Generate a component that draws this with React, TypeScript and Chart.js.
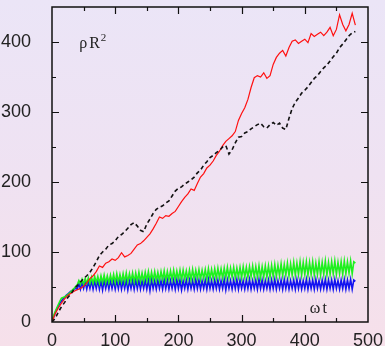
import { useEffect, useRef } from 'react';
import { Chart, registerables } from 'chart.js';

Chart.register(...registerables);

// time step (ωt units) between successive samples
const COARSE_STEP = 5;
const FINE_STEP = 2.5;

const X_TICKS = [0, 100, 200, 300, 400, 500];
const Y_TICKS = [0, 100, 200, 300, 400];

// red solid curve, samples every 5 units from 0 to 480
const RED = [
  0, 12, 20, 27, 33, 38, 41, 44, 46, 48, 51, 56, 62, 66, 72, 80, 78, 84, 86, 90,
  88, 92, 99, 93, 95, 98, 104, 110, 112, 116, 121, 126, 133, 141, 150, 148, 152, 151, 155, 158,
  165, 172, 178, 183, 190, 188, 198, 207, 212, 220, 224, 230, 238, 244, 252, 258, 262, 266, 272, 288,
  298, 306, 318, 335, 349, 352, 350, 356, 348, 352, 368, 378, 384, 388, 380, 392, 401, 403, 398, 401,
  404, 399, 412, 408, 411, 414, 409, 414, 421, 409, 418, 439, 425, 416, 425, 441, 424,
];

// black dashed curve, samples every 5 units from 0 to 480
const BLACK = [
  0, 5, 14, 22, 28, 35, 40, 47, 52, 57, 62, 66, 71, 78, 86, 95, 100, 104, 110, 112,
  116, 122, 125, 129, 134, 139, 142, 137, 131, 129, 140, 147, 155, 161, 164, 166, 170, 173, 180, 187,
  191, 193, 197, 200, 203, 207, 213, 217, 224, 229, 235, 238, 242, 245, 250, 252, 240, 246, 256, 264,
  265, 270, 272, 276, 279, 282, 284, 279, 277, 282, 285, 281, 284, 277, 275, 291, 305, 314, 320, 327,
  331, 336, 342, 348, 352, 358, 363, 367, 373, 379, 384, 392, 397, 403, 409, 413, 415,
];

// green oscillating curve, samples every 2.5 units from 0 to 480
const GREEN = [
  0, 9, 15, 20, 25, 30, 34, 35, 36, 37, 39, 41, 43, 46, 48, 51,
  53, 59, 54, 61, 54, 62, 55, 63, 55, 64,
  55, 65, 56, 65, 55, 66, 56, 67, 56, 66,
  56, 67, 57, 68, 56, 69, 57, 68, 57, 69,
  57, 70, 57, 69, 58, 70, 57, 70, 58, 71,
  58, 70, 58, 71, 59, 72, 58, 71, 59, 72,
  59, 71, 59, 72, 60, 73, 59, 72, 60, 73,
  60, 74, 60, 73, 61, 74, 60, 74, 61, 73,
  61, 74, 60, 75, 61, 74, 62, 75, 61, 74,
  62, 75, 61, 76, 62, 75, 62, 76, 62, 77,
  63, 76, 62, 77, 63, 78, 63, 77, 64, 78,
  63, 77, 64, 78, 63, 79, 64, 78, 64, 79,
  65, 80, 64, 79, 64, 80, 63, 79, 64, 80,
  64, 80, 64, 81, 65, 82, 65, 81, 66, 83,
  66, 82, 67, 84, 66, 83, 67, 85, 67, 84,
  68, 86, 67, 85, 68, 86, 67, 85, 68, 86,
  67, 84, 68, 86, 67, 85, 68, 87, 67, 85,
  68, 86, 69, 87, 68, 85, 69, 86, 68, 87,
  69, 86, 70, 87, 69, 86,
  84,
];

// blue oscillating curve, samples every 2.5 units from 0 to 480
const BLUE = [
  0, 7, 13, 18, 23, 27, 30, 33, 35, 38, 40, 42, 44, 45, 47, 48,
  47, 56, 47, 57, 48, 58, 47, 58, 48, 59,
  47, 59, 48, 60, 47, 59, 46, 60, 48, 59,
  47, 60, 48, 59, 47, 60, 48, 61, 47, 59,
  48, 60, 46, 59, 48, 60, 47, 61, 48, 60,
  47, 59, 48, 60, 47, 60, 45, 61, 48, 59,
  47, 60, 48, 59, 47, 61, 48, 60, 47, 59,
  48, 60, 47, 61, 48, 60, 46, 59, 48, 60,
  47, 60, 48, 59, 47, 61, 48, 60, 47, 59,
  48, 60, 47, 61, 48, 59, 47, 60, 48, 60,
  47, 59, 48, 61, 46, 60, 48, 59, 47, 60,
  48, 61, 47, 60, 48, 59, 47, 60, 48, 61,
  47, 59, 48, 60, 47, 61, 48, 60, 47, 59,
  48, 60, 47, 60, 48, 61, 47, 59, 48, 60,
  47, 61, 48, 60, 47, 59, 48, 60, 47, 61,
  48, 60, 47, 59, 48, 61, 47, 60, 48, 60,
  47, 61, 48, 59, 47, 60, 48, 61, 47, 60,
  48, 60, 47, 61, 48, 59, 47, 60, 48, 61,
  47, 60, 48, 61, 47, 60,
  58,
];

const toPoints = (vals: number[], step: number) => vals.map((y, i) => ({ x: i * step, y }));

const decor = {
  id: 'decor',
  afterDatasetsDraw(chart: any) {
    const { ctx, chartArea: a, scales } = chart;
    const xs = scales.x;
    const ys = scales.y;
    ctx.save();
    ctx.strokeStyle = '#111';
    ctx.lineWidth = 1.2;
    // inward ticks
    for (let v = 50; v < 500; v += 50) {
      const px = Math.round(xs.getPixelForValue(v)) + 0.5;
      const len = v % 100 === 0 ? 7 : 4;
      ctx.beginPath();
      ctx.moveTo(px, a.bottom);
      ctx.lineTo(px, a.bottom - len);
      ctx.moveTo(px, a.top);
      ctx.lineTo(px, a.top + len);
      ctx.stroke();
    }
    for (let v = 50; v < 450; v += 50) {
      const py = Math.round(ys.getPixelForValue(v)) + 0.5;
      const len = v % 100 === 0 ? 7 : 4;
      ctx.beginPath();
      ctx.moveTo(a.left, py);
      ctx.lineTo(a.left + len, py);
      ctx.moveTo(a.right, py);
      ctx.lineTo(a.right - len, py);
      ctx.stroke();
    }
    // frame
    ctx.lineWidth = 1.5;
    ctx.strokeRect(a.left, a.top, a.right - a.left, a.bottom - a.top);

    // annotations
    ctx.fillStyle = '#222';
    ctx.textBaseline = 'alphabetic';
    ctx.textAlign = 'left';
    const lx = xs.getPixelForValue(43);
    const ly = ys.getPixelForValue(391);
    ctx.font = '16px "Liberation Serif", serif';
    ctx.fillText('ρ', lx, ly);
    const rw = ctx.measureText('ρ').width + 2;
    ctx.fillText('R', lx + rw, ly);
    const r2 = ctx.measureText('R').width + 1;
    ctx.font = '11px "Liberation Serif", serif';
    ctx.fillText('2', lx + rw + r2, ly - 7);

    ctx.font = '16px "Liberation Serif", serif';
    const wx = xs.getPixelForValue(408);
    const wy = ys.getPixelForValue(13);
    ctx.fillText('ω', wx, wy);
    const ww = ctx.measureText('ω').width + 2;
    ctx.fillText('t', wx + ww, wy);
    ctx.restore();
  },
};

export default function App() {
  const ref = useRef<HTMLCanvasElement | null>(null);

  useEffect(() => {
    document.body.style.margin = '0';
    if (!ref.current) return;
    const chart = new Chart(ref.current, {
      type: 'line',
      data: {
        datasets: [
          {
            data: toPoints(BLACK, COARSE_STEP),
            borderColor: '#111',
            borderWidth: 1.6,
            borderDash: [4, 3],
            pointRadius: 0,
            tension: 0,
          },
          {
            data: toPoints(RED, COARSE_STEP),
            borderColor: '#ff1010',
            borderWidth: 1.2,
            pointRadius: 0,
            tension: 0,
          },
          {
            data: toPoints(GREEN, FINE_STEP),
            borderColor: '#1ef01e',
            borderWidth: 1.6,
            pointRadius: 0,
            tension: 0,
          },
          {
            data: toPoints(BLUE, FINE_STEP),
            borderColor: '#1414f0',
            borderWidth: 1.6,
            pointRadius: 0,
            tension: 0,
          },
        ],
      },
      options: {
        animation: false,
        responsive: false,
        maintainAspectRatio: false,
        layout: { padding: { top: 7, right: 17, left: 0, bottom: 0 } },
        plugins: { legend: { display: false }, tooltip: { enabled: false } },
        scales: {
          x: {
            type: 'linear',
            min: 0,
            max: 500,
            afterBuildTicks: (s: any) => {
              s.ticks = X_TICKS.map((v) => ({ value: v }));
            },
            afterFit: (s: any) => {
              s.height = 24;
              s.paddingLeft = 0;
              s.paddingRight = 0;
            },
            grid: { display: false },
            border: { display: false },
            ticks: {
              color: '#222',
              padding: 0,
              maxRotation: 0,
              autoSkip: false,
              font: { family: '"Liberation Sans", Arial, sans-serif', size: 18 },
            },
          },
          y: {
            type: 'linear',
            min: 0,
            max: 450,
            afterBuildTicks: (s: any) => {
              s.ticks = Y_TICKS.map((v) => ({ value: v }));
            },
            afterFit: (s: any) => {
              s.width = 52;
              s.paddingTop = 0;
              s.paddingBottom = 0;
            },
            grid: { display: false },
            border: { display: false },
            ticks: {
              color: '#222',
              padding: 13,
              autoSkip: false,
              font: { family: '"Liberation Sans", Arial, sans-serif', size: 18 },
            },
          },
        },
      },
      plugins: [decor],
    });
    return () => chart.destroy();
  }, []);

  return (
    <div
      style={{
        width: 385,
        height: 346,
        background: 'linear-gradient(to bottom, #ebe5f7 0%, #efe2f2 50%, #f6e0ea 100%)',
      }}
    >
      <canvas ref={ref} width={385} height={346} style={{ display: 'block' }} />
    </div>
  );
}
